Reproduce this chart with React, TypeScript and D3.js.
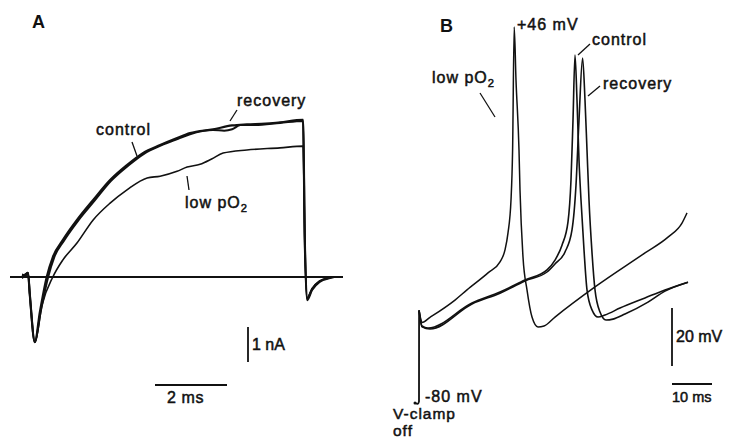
import * as React from 'react';
import * as d3 from 'd3';

// Panel A: membrane current (nA) vs time (ms) from onset of the voltage step
let controlA: [number, number][] = [
  [-0.17, 0], [-0.06, 0.08], [0, 0.12], [0.05, -0.5], [0.19, -1.86], [0.33, -1.0],
  [0.52, 0], [0.69, 0.57], [0.97, 1.06], [1.36, 1.63], [1.81, 2.2], [2.28, 2.77],
  [2.75, 3.2], [3.19, 3.54], [3.67, 3.77], [4.14, 3.97], [4.5, 4.11], [5.14, 4.22],
  [5.67, 4.33], [6.08, 4.36], [6.6, 4.38], [7.0, 4.42], [7.64, 4.49], [7.69, 1.0],
  [7.75, -0.66], [7.89, -0.37], [8.1, -0.14], [8.39, -0.03], [8.5, 0]
];
let recoveryA: [number, number][] = [
  [-0.17, 0], [-0.06, 0.08], [0, 0.12], [0.05, -0.5], [0.19, -1.86], [0.35, -1.0],
  [0.56, 0], [0.73, 0.57], [1.0, 1.04], [1.4, 1.62], [1.85, 2.18], [2.3, 2.74],
  [2.78, 3.18], [3.22, 3.52], [3.7, 3.76], [4.17, 3.95], [4.5, 4.08], [5.14, 4.2],
  [5.45, 4.18], [5.67, 4.22], [5.9, 4.34], [6.3, 4.34], [7.0, 4.4], [7.64, 4.46],
  [7.69, 1.0], [7.75, -0.62], [7.89, -0.35], [8.1, -0.12], [8.39, -0.02], [8.5, 0]
];
let lowPO2A: [number, number][] = [
  [-0.17, 0], [-0.06, 0.08], [0, 0.12], [0.05, -0.5], [0.19, -1.86], [0.39, -0.8],
  [0.69, 0], [0.97, 0.49], [1.36, 0.97], [1.81, 1.63], [2.28, 2.11], [2.75, 2.49],
  [3.31, 2.83], [3.67, 2.88], [4.14, 3.02], [4.42, 3.14], [4.78, 3.22], [5.1, 3.37],
  [5.42, 3.54], [6.08, 3.63], [7.0, 3.69], [7.64, 3.74], [7.69, 1.0], [7.75, -0.6],
  [7.89, -0.33], [8.1, -0.12], [8.39, -0.02], [8.5, 0]
];

// Panel B: membrane potential (mV) vs time (ms) after V-clamp off
let clampStep: [number, number][] = [[-1, -80], [-0.3, -80.3], [0, -79.5], [0.02, -49]];
let controlB: [number, number][] = [
  [0.02, -49], [0.3, -51.5], [0.75, -54.2], [2.25, -54.9], [13.25, -46.5], [20.25, -42.8],
  [26.5, -38.8], [32, -35.4], [34, -32.1], [35.75, -27.1], [37.25, -19.3], [38, -5.3],
  [38.5, 14.8], [39, 36.6], [39.5, 21.5], [40, 1.4], [40.5, -12], [41.25, -28.7],
  [42, -42.1], [43.25, -48.8], [44.75, -51.2], [46.5, -50.5], [50.25, -48.2],
  [56.5, -44.8], [61.5, -42.1], [67.25, -39.5]
];
let recoveryB: [number, number][] = [
  [0.02, -49], [0.3, -51.8], [0.75, -54.5], [2.75, -55.2], [13.25, -46.8], [20.25, -43.2],
  [26.5, -39.1], [32, -36.1], [34, -33.4], [36.5, -29.4], [38.25, -22], [39.25, -7],
  [40, 14.8], [40.9, 35.6], [41.5, 21.5], [42, 4.8], [42.5, -12], [43.25, -29.6],
  [44, -42.1], [45.25, -49.5], [46.75, -52.2], [48.5, -51.9], [51.5, -50.2],
  [57.25, -46.2], [61.5, -42.5], [67.25, -39.5]
];
let lowPO2B: [number, number][] = [
  [0.02, -49], [0.3, -51], [0.75, -53], [2.75, -51.3], [9, -45.5], [12, -42.1],
  [17.25, -36.4], [20.25, -32.7], [21.5, -28.7], [22.25, -23], [23, -12], [23.4, 4.8],
  [23.8, 46], [24.25, 28.2], [25, 4.8], [25.25, -8.6], [26, -31.1], [27, -42.1],
  [28.25, -51.2], [29.75, -54.5], [31.25, -54.2], [34, -51.2], [44, -41.1],
  [56.5, -29.7], [62.25, -24.4], [65.75, -19.7], [67, -16.3]
];

let font = '"Liberation Sans", Arial, sans-serif';

function Label(props: { x: number; y: number; text: string; sub?: string; size?: number; bold?: boolean; ls?: number }) {
  let size = props.size || 16;
  return <text x={props.x} y={props.y} fontFamily={font} fontSize={size}
    fontWeight={props.bold ? 'bold' : 'normal'} letterSpacing={props.ls === undefined ? 1 : props.ls}
    fill="#111" stroke="#111" strokeWidth={props.bold ? 0 : 0.5}>
    {props.text}
    {props.sub ? <tspan fontSize={size * 0.7} dy={4}>{props.sub}</tspan> : null}
  </text>;
}

export default function App() {
  let xA = d3.scaleLinear().domain([0, 1]).range([28, 64]);
  let yA = d3.scaleLinear().domain([0, 1]).range([277, 242]);
  let xB = d3.scaleLinear().domain([0, 10]).range([419, 459]);
  let yB = d3.scaleLinear().domain([-80, 46]).range([403, 27]);

  let lineA = d3.line<[number, number]>().x(d => xA(d[0])).y(d => yA(d[1])).curve(d3.curveMonotoneX);
  let lineB = d3.line<[number, number]>().x(d => xB(d[0])).y(d => yB(d[1])).curve(d3.curveMonotoneX);

  let ink = '#111';

  return <svg width={733} height={440} style={{ position: 'absolute', left: 0, top: 0, background: '#fff' }}>
    {/* panel A */}
    <line x1={xA(-0.5)} x2={xA(8.75)} y1={yA(0)} y2={yA(0)} stroke={ink} strokeWidth={1.8} />
    <path d="M22,273.5 L28,275.5 L22,279 Z" fill={ink} />
    <path d={lineA(lowPO2A) || ''} fill="none" stroke={ink} strokeWidth={1.6} />
    <path d={lineA(recoveryA) || ''} fill="none" stroke={ink} strokeWidth={2} />
    <path d={lineA(controlA) || ''} fill="none" stroke={ink} strokeWidth={2.2} />

    <Label x={32} y={28} text="A" size={18} bold ls={0} />
    <Label x={237} y={106} text="recovery" />
    <line x1={237} y1={110} x2={230} y2={121} stroke={ink} strokeWidth={1.3} />
    <Label x={96} y={135} text="control" />
    <line x1={132} y1={142} x2={137} y2={156} stroke={ink} strokeWidth={1.3} />
    <Label x={185} y={208} text="low pO" sub="2" />
    <line x1={187} y1={176} x2={189} y2={190} stroke={ink} strokeWidth={1.3} />

    {/* A scale bars */}
    <line x1={248} x2={248} y1={327} y2={362} stroke={ink} strokeWidth={1.8} />
    <Label x={252} y={350} text="1 nA" ls={0} />
    <line x1={155} x2={227} y1={385} y2={385} stroke={ink} strokeWidth={1.8} />
    <Label x={167} y={403} text="2 ms" ls={0.6} />

    {/* panel B */}
    <path d={lineB(clampStep) || ''} fill="none" stroke={ink} strokeWidth={1.8} />
    <circle cx={xB(-1)} cy={yB(-80)} r={1.5} fill={ink} />
    <path d={lineB(lowPO2B) || ''} fill="none" stroke={ink} strokeWidth={1.5} />
    <path d={lineB(recoveryB) || ''} fill="none" stroke={ink} strokeWidth={1.6} />
    <path d={lineB(controlB) || ''} fill="none" stroke={ink} strokeWidth={1.6} />

    <Label x={440} y={32} text="B" size={18} bold ls={0} />
    <Label x={517} y={30} text="+46 mV" />
    <Label x={432} y={83} text="low pO" sub="2" />
    <line x1={480} y1={93} x2={495} y2={117} stroke={ink} strokeWidth={1.3} />
    <Label x={592} y={45} text="control" />
    <line x1={590} y1={44} x2={578} y2={55} stroke={ink} strokeWidth={1.3} />
    <Label x={603} y={89} text="recovery" />
    <line x1={600} y1={86} x2={588} y2={96} stroke={ink} strokeWidth={1.3} />
    <Label x={425} y={402} text="-80 mV" />
    <Label x={393} y={419} text="V-clamp" size={15.5} />
    <Label x={393} y={436} text="off" size={15.5} />

    {/* B scale bars */}
    <line x1={672} x2={672} y1={308} y2={366} stroke={ink} strokeWidth={1.8} />
    <Label x={676} y={342} text="20 mV" ls={0} />
    <line x1={672} x2={712} y1={384} y2={384} stroke={ink} strokeWidth={1.8} />
    <Label x={672} y={402} text="10 ms" ls={0} size={14.5} />
  </svg>;
}
